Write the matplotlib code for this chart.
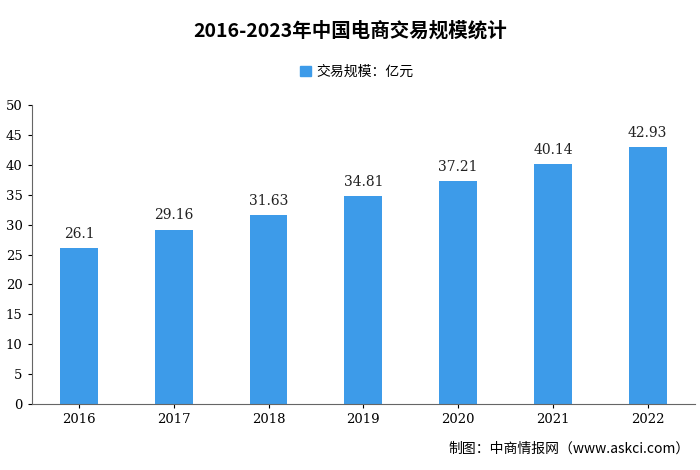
import matplotlib
matplotlib.use("Agg")
import matplotlib.pyplot as plt
from matplotlib.patches import Patch

plt.rcParams['font.family'] = ['Noto Sans CJK SC', 'DejaVu Sans']

years = ['2016', '2017', '2018', '2019', '2020', '2021', '2022']
values = [26.1, 29.16, 31.63, 34.81, 37.21, 40.14, 42.93]
labels = ['26.1', '29.16', '31.63', '34.81', '37.21', '40.14', '42.93']
color = '#3d9be9'
serif = 'DejaVu Serif'

fig = plt.figure(figsize=(7, 4.7), dpi=100)
ax = fig.add_axes([0.045, 0.14, 0.948, 0.637])
x = range(len(years))
ax.bar(x, values, width=0.4, color=color)
for i, (v, l) in enumerate(zip(values, labels)):
    ax.text(i, v + 1.2, l, ha='center', va='bottom', fontsize=10, family=serif, color='#222')
ax.set_xticks(list(x))
ax.set_xticklabels(years, fontsize=9.5, family=serif)
ax.set_yticks(range(0, 51, 5))
ax.set_yticklabels([str(t) for t in range(0, 51, 5)], fontsize=9.5, family=serif)
ax.tick_params(length=3)
ax.set_ylim(0, 50)
ax.set_xlim(-0.5, 6.5)
for s in ['top', 'right']:
    ax.spines[s].set_visible(False)
ax.spines['left'].set_color('#666')
ax.spines['bottom'].set_color('#666')

fig.text(0.5, 0.935, '2016-2023年中国电商交易规模统计', ha='center', va='center',
         fontsize=14, fontweight='bold')
fig.legend(handles=[Patch(color=color)], labels=['交易规模：亿元'], loc='center',
           bbox_to_anchor=(0.51, 0.847), frameon=False, fontsize=10,
           handlelength=0.8, handleheight=0.8, handletextpad=0.4)
fig.text(0.985, 0.045, '制图：中商情报网（www.askci.com）', ha='right', va='center', fontsize=10)
fig.savefig('out.png', dpi=100)
